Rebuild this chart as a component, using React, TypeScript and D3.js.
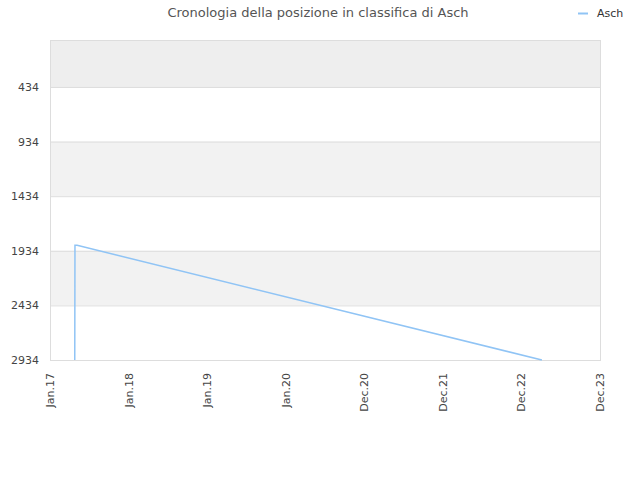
import { useEffect, useRef } from "react";
import * as d3 from "d3";

const title = "Cronologia della posizione in classifica di Asch";
const seriesName = "Asch";

const dates = ["2017-04-26", "2017-04-27", "2017-05-07", "2023-04-05"];
const ranks = [2934, 1884, 1884, 2934];

const yTicks = [434, 934, 1434, 1934, 2434, 2934];
const xTickDates = [
  "2017-01-01",
  "2018-01-01",
  "2019-01-01",
  "2020-01-01",
  "2020-12-31",
  "2021-12-31",
  "2022-12-31",
  "2023-12-31",
];
const xTickLabels = ["Jan.17", "Jan.18", "Jan.19", "Jan.20", "Dec.20", "Dec.21", "Dec.22", "Dec.23"];

export default function App() {
  const width = 640;
  const height = 480;
  const svgRef = useRef<SVGSVGElement>(null);

  useEffect(() => {
    const margin = { top: 40, right: 40, bottom: 120, left: 50 };
    const parse = d3.timeParse("%Y-%m-%d");
    const svg = d3.select(svgRef.current);
    svg.selectAll("*").remove();

    const x = d3
      .scaleTime()
      .domain([parse("2017-01-01")!, parse("2023-12-31")!])
      .range([margin.left, width - margin.right]);
    const y = d3
      .scaleLinear()
      .domain([4, 2934])
      .range([margin.top, height - margin.bottom]);

    const font = "DejaVu Sans, sans-serif";

    // alternating bands
    const bounds = [4, ...yTicks];
    for (let i = 0; i < bounds.length - 1; i++) {
      const fromBottom = bounds.length - 2 - i;
      let fill = fromBottom % 2 === 1 ? "#f2f2f2" : "#ffffff";
      if (i === 0) fill = "#eeeeee";
      svg
        .append("rect")
        .attr("x", margin.left)
        .attr("y", y(bounds[i]))
        .attr("width", width - margin.right - margin.left)
        .attr("height", y(bounds[i + 1]) - y(bounds[i]))
        .attr("fill", fill);
    }

    // grid lines
    svg
      .append("g")
      .selectAll("line")
      .data(yTicks)
      .join("line")
      .attr("x1", margin.left)
      .attr("x2", width - margin.right)
      .attr("y1", (d) => y(d) + 0.5)
      .attr("y2", (d) => y(d) + 0.5)
      .attr("stroke", "#dddddd");

    // frame
    svg
      .append("rect")
      .attr("x", margin.left + 0.5)
      .attr("y", margin.top + 0.5)
      .attr("width", width - margin.right - margin.left)
      .attr("height", height - margin.bottom - margin.top)
      .attr("fill", "none")
      .attr("stroke", "#dddddd");

    // y labels
    svg
      .append("g")
      .selectAll("text")
      .data(yTicks)
      .join("text")
      .attr("x", margin.left - 11)
      .attr("y", (d) => y(d) + 4)
      .attr("text-anchor", "end")
      .attr("font-family", font)
      .attr("font-size", 11)
      .attr("fill", "#444")
      .text((d) => d);

    // x labels
    svg
      .append("g")
      .selectAll("text")
      .data(xTickDates)
      .join("text")
      .attr("transform", (d) => `translate(${x(parse(d)!) + 4},${height - margin.bottom + 13}) rotate(-90)`)
      .attr("text-anchor", "end")
      .attr("font-family", font)
      .attr("font-size", 11)
      .attr("fill", "#444")
      .text((_, i) => xTickLabels[i]);

    // line
    const points = dates.map((d, i) => [parse(d)!, ranks[i]] as [Date, number]);
    const line = d3
      .line<[Date, number]>()
      .x((d) => x(d[0]))
      .y((d) => y(d[1]));
    svg
      .append("path")
      .attr("d", line(points))
      .attr("fill", "none")
      .attr("stroke", "#90c4f5")
      .attr("stroke-width", 1.5);

    // title
    svg
      .append("text")
      .attr("x", 318)
      .attr("y", 17)
      .attr("text-anchor", "middle")
      .attr("font-family", font)
      .attr("font-size", 13)
      .attr("fill", "#555")
      .text(title);

    // legend
    svg
      .append("line")
      .attr("x1", 578)
      .attr("x2", 588)
      .attr("y1", 13.5)
      .attr("y2", 13.5)
      .attr("stroke", "#90c4f5")
      .attr("stroke-width", 2);
    svg
      .append("text")
      .attr("x", 597)
      .attr("y", 17)
      .attr("font-family", font)
      .attr("font-size", 11)
      .attr("fill", "#333")
      .text(seriesName);
  }, []);

  return (
    <div style={{ position: "absolute", left: 0, top: 0 }}>
      <svg ref={svgRef} width={width} height={height} style={{ display: "block" }}></svg>
    </div>
  );
}
